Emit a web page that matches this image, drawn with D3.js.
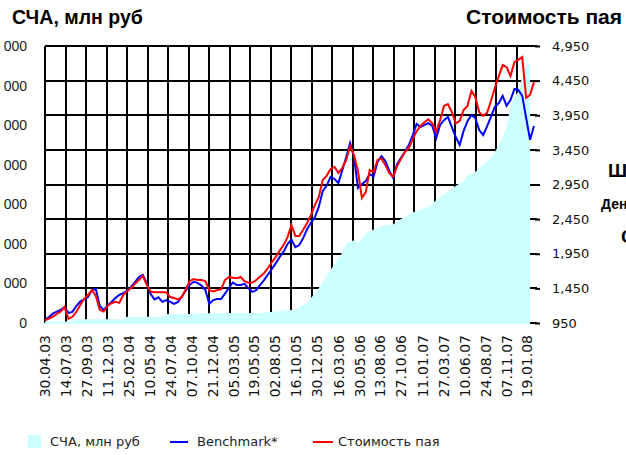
<!DOCTYPE html>
<html>
<head>
<meta charset="utf-8">
<script src="https://cdn.jsdelivr.net/npm/d3@7/dist/d3.min.js"></script>
<style>
  body { margin: 0; background: #fff; overflow: hidden; }
  svg { display: block; }
</style>
</head>
<body>
<div id="chart"></div>
<script>
// Data: one value every two weeks from 30.04.03
const startDate = "30.04.03";
const stepDays = 14;

// СЧА, млн руб (left axis)
const navValues = [
  70, 70, 70, 70, 70, 70, 70, 70, 190, 190,
  190, 190, 190, 190, 190, 190, 190, 190, 190, 190,
  190, 320, 320, 320, 320, 320, 320, 320, 320, 320,
  320, 455, 455, 455, 455, 455, 455, 455, 455, 490,
  490, 490, 490, 490, 490, 490, 490, 505, 505, 505,
  505, 505, 505, 505, 505, 505, 505, 555, 560, 580,
  600, 620, 630, 655, 655, 810, 910, 1010, 1265, 1515,
  1770, 2020, 2375, 2680, 2980, 3260, 3565, 4020, 4145, 4170,
  4070, 4245, 4500, 4625, 4725, 4825, 4875, 4955, 4955, 4980,
  5130, 5255, 5355, 5485, 5585, 5660, 5735, 5785, 5865, 6015,
  6215, 6370, 6495, 6645, 6770, 6925, 7050, 7175, 7430, 7580,
  7645, 7810, 7985, 8160, 8340, 8640, 8995, 9375, 9955, 10965,
  11420, 11700, 12435, 13040, 13115
];

// Benchmark* (right axis)
const benchmark = [
  995, 1035, 1085, 1115, 1140, 1180, 1095, 1110, 1195, 1260,
  1290, 1325, 1425, 1440, 1195, 1140, 1205, 1255, 1310, 1355,
  1380, 1420, 1470, 1540, 1615, 1645, 1525, 1370, 1290, 1320,
  1255, 1280, 1255, 1225, 1255, 1335, 1420, 1500, 1545, 1530,
  1490, 1425, 1225, 1280, 1295, 1295, 1375, 1455, 1535, 1500,
  1500, 1515, 1450, 1400, 1425, 1500, 1570, 1650, 1730, 1815,
  1905, 1980, 2090, 2155, 2045, 2075, 2175, 2305, 2400, 2480,
  2630, 2855, 2935, 3060, 3030, 2970, 3155, 3345, 3550, 3345,
  2900, 2955, 3000, 3100, 3065, 3275, 3360, 3290, 3150, 3045,
  3240, 3335, 3420, 3520, 3660, 3825, 3780, 3810, 3835, 3795,
  3620, 3810, 3880, 3925, 3780, 3635, 3520, 3720, 3865, 3955,
  3910, 3735, 3665, 3790, 3925, 4070, 4125, 4230, 4085, 4170,
  4330, 4315, 4230, 3910, 3595, 3795
];

// Стоимость пая (right axis)
const unitPrice = [
  990, 1015, 1040, 1080, 1115, 1180, 1010, 1040, 1110, 1210,
  1300, 1355, 1425, 1340, 1140, 1115, 1195, 1235, 1255, 1240,
  1355, 1410, 1455, 1515, 1570, 1630, 1500, 1400, 1395, 1395,
  1395, 1395, 1325, 1310, 1290, 1325, 1440, 1555, 1585, 1570,
  1570, 1555, 1425, 1405, 1425, 1435, 1570, 1615, 1605, 1595,
  1615, 1555, 1530, 1535, 1570, 1620, 1670, 1745, 1830, 1905,
  1995, 2075, 2190, 2365, 2205, 2205, 2295, 2395, 2510, 2655,
  2770, 3015, 3075, 3175, 3205, 3115, 3190, 3305, 3505, 3375,
  3145, 2755, 2840, 3160, 3130, 3305, 3325, 3230, 3115, 3065,
  3215, 3320, 3420, 3475, 3605, 3720, 3795, 3850, 3890, 3835,
  3710, 3880, 4085, 4110, 3995, 3835, 3865, 4025, 4085, 4300,
  4215, 3995, 3940, 3985, 4155, 4345, 4515, 4675, 4645, 4515,
  4720, 4750, 4790, 4200, 4245, 4430
];

const leftTicks = [0, 2000, 4000, 6000, 8000, 10000, 12000, 14000];
const rightTicks = [950, 1450, 1950, 2450, 2950, 3450, 3950, 4450, 4950];
const dateLabels = [
  "30.04.03", "14.07.03", "27.09.03", "11.12.03", "25.02.04", "10.05.04",
  "24.07.04", "07.10.04", "21.12.04", "05.03.05", "19.05.05", "02.08.05",
  "16.10.05", "30.12.05", "16.03.06", "30.05.06", "13.08.06", "27.10.06",
  "11.01.07", "27.03.07", "10.06.07", "24.08.07", "07.11.07", "19.01.08"
];
const sideLabels = ["Шарп", "Денежный", "Сигма"];

const width = 626, height = 455;
const plot = {left: 45, right: 537, top: 46, bottom: 323};
const navColor = "#ccffff", benchColor = "#0000ff", priceColor = "#ff0000";

const svg = d3.select("#chart").append("svg")
    .attr("width", width)
    .attr("height", height);

const parse = d3.timeParse("%d.%m.%y");
const t0 = parse(startDate);
const dates = unitPrice.map((d, i) => d3.timeDay.offset(t0, i * stepDays));

const x = d3.scaleTime()
    .domain([parse(dateLabels[0]), parse(dateLabels[dateLabels.length - 1])])
    .range([plot.left, 527]);
const yL = d3.scaleLinear().domain([0, 14000]).range([plot.bottom, plot.top]);
const yR = d3.scaleLinear().domain([950, 4950]).range([plot.bottom, plot.top]);

// grid
const gx = d3.scaleLinear().domain([0, 24]).range([plot.left, plot.right]);
svg.append("g")
    .selectAll("line")
    .data(d3.range(24))
    .join("line")
    .attr("x1", d => Math.round(gx(d)))
    .attr("x2", d => Math.round(gx(d)))
    .attr("y1", plot.top)
    .attr("y2", plot.bottom)
    .attr("stroke", "#000")
    .attr("stroke-width", 2);
svg.append("g")
    .selectAll("line")
    .data(rightTicks)
    .join("line")
    .attr("x1", plot.left)
    .attr("x2", plot.right)
    .attr("y1", d => Math.round(yR(d)))
    .attr("y2", d => Math.round(yR(d)))
    .attr("stroke", "#000")
    .attr("stroke-width", 2);

// СЧА area
svg.append("path")
    .datum(navValues)
    .attr("fill", navColor)
    .attr("d", d3.area()
        .x((d, i) => x(dates[i]))
        .y0(yL(0) + 1)
        .y1(d => yL(d))
    );

// lines
const line = d3.line().x((d, i) => x(dates[i]));
svg.append("path")
    .datum(benchmark)
    .attr("fill", "none")
    .attr("stroke", benchColor)
    .attr("stroke-width", 2)
    .attr("d", line.y(d => yR(d)));
svg.append("path")
    .datum(unitPrice)
    .attr("fill", "none")
    .attr("stroke", priceColor)
    .attr("stroke-width", 2)
    .attr("d", line.y(d => yR(d)));

// right axis
const rAxis = svg.append("g")
    .attr("transform", `translate(${plot.right - 2}, 0)`)
    .call(d3.axisRight(yR).tickValues(rightTicks).tickSize(5).tickPadding(12)
        .tickFormat(d3.format(",")));
rAxis.select(".domain").remove();
rAxis.selectAll("line").attr("stroke", "#000").attr("stroke-width", 2);
rAxis.selectAll("text")
    .attr("font-family", "DejaVu Sans")
    .attr("font-size", 13)
    .attr("fill", "#111");

// left axis
const lAxis = svg.append("g")
    .attr("transform", "translate(27, 0)")
    .call(d3.axisLeft(yL).tickValues(leftTicks).tickSize(0).tickPadding(0)
        .tickFormat(d => d3.format(",")(d).replace(",", " ")));
lAxis.select(".domain").remove();
lAxis.selectAll("text")
    .attr("font-family", "Liberation Sans, Arial")
    .attr("font-size", 14)
    .attr("fill", "#222");

// date labels
svg.append("g")
    .selectAll("text")
    .data(dateLabels)
    .join("text")
    .attr("transform", d => `translate(${x(parse(d))}, 335) rotate(-90)`)
    .attr("text-anchor", "end")
    .attr("dy", "0.35em")
    .attr("font-family", "DejaVu Sans")
    .attr("font-size", 14)
    .attr("fill", "#111")
    .text(d => d);

// titles
svg.append("text")
    .attr("x", 12).attr("y", 24)
    .attr("font-family", "Liberation Sans, Arial")
    .attr("font-size", 19.5).attr("font-weight", "bold")
    .text("СЧА, млн руб");
svg.append("text")
    .attr("x", 466).attr("y", 24)
    .attr("font-family", "Liberation Sans, Arial")
    .attr("font-size", 21).attr("font-weight", "bold")
    .text("Стоимость пая");

// side table, cut by the page edge
svg.append("text").attr("x", 608).attr("y", 177)
    .attr("font-family", "Liberation Sans, Arial").attr("font-size", 19).attr("font-weight", "bold")
    .text(sideLabels[0]);
svg.append("text").attr("x", 601).attr("y", 209)
    .attr("font-family", "Liberation Sans, Arial").attr("font-size", 14).attr("font-weight", "bold")
    .text(sideLabels[1]);
svg.append("text").attr("x", 621).attr("y", 243)
    .attr("font-family", "Liberation Sans, Arial").attr("font-size", 19).attr("font-weight", "bold")
    .text(sideLabels[2]);

// legend
const legend = svg.append("g").attr("font-family", "DejaVu Sans").attr("font-size", 13).attr("fill", "#222");
legend.append("rect").attr("x", 28).attr("y", 435).attr("width", 13).attr("height", 13).attr("fill", navColor);
legend.append("text").attr("x", 50).attr("y", 446).text("СЧА, млн руб");
legend.append("line").attr("x1", 170).attr("x2", 188).attr("y1", 442).attr("y2", 442)
    .attr("stroke", benchColor).attr("stroke-width", 2);
legend.append("text").attr("x", 197).attr("y", 446).text("Benchmark*");
legend.append("line").attr("x1", 313).attr("x2", 333).attr("y1", 442).attr("y2", 442)
    .attr("stroke", priceColor).attr("stroke-width", 2);
legend.append("text").attr("x", 338).attr("y", 446).text("Стоимость пая");
</script>
</body>
</html>
